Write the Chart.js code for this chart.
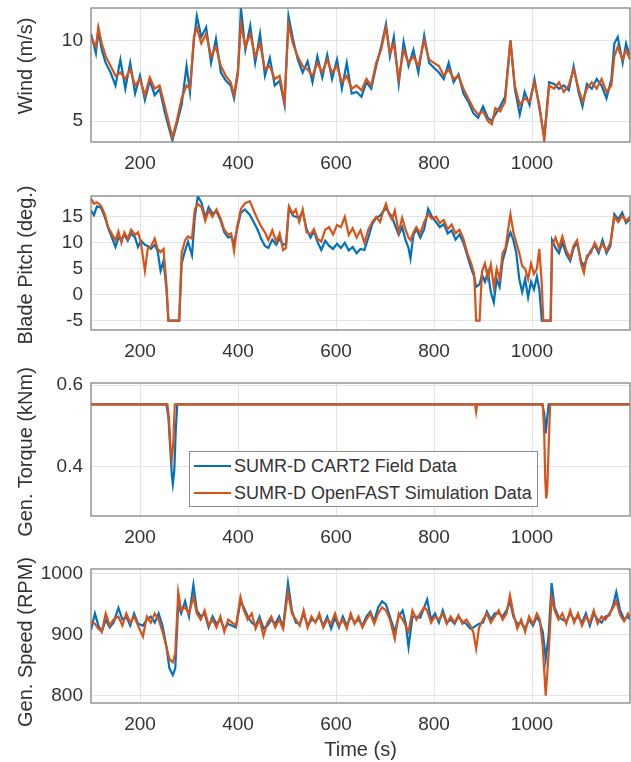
<!DOCTYPE html>
<html><head><meta charset="utf-8">
<script src="https://cdn.jsdelivr.net/npm/chart.js@4.4.1/dist/chart.umd.min.js"></script>
<style>
html,body{margin:0;padding:0;background:#fff;}
body{width:631px;height:762px;position:relative;overflow:hidden;font-family:"Liberation Sans",Arial,sans-serif;}
canvas{position:absolute;left:0;}
#legend{position:absolute;left:189px;top:451px;width:349px;height:56px;box-sizing:border-box;border:1px solid #8a8a8a;background:#fff;z-index:5;}
#legend .ln{position:absolute;left:4px;width:37px;height:2.5px;}
#legend .tx{position:absolute;left:44px;font-size:18px;line-height:20px;color:#333;white-space:nowrap;}
.ylab{position:absolute;left:25px;font-size:20px;line-height:24px;color:#333;white-space:nowrap;transform:translate(-50%,-50%) rotate(-90deg);z-index:4;}
</style></head>
<body>
<div id="legend"></div>
<script>
// ---------- data ----------
const seriesNames = ['SUMR-D CART2 Field Data', 'SUMR-D OpenFAST Simulation Data'];
const yLabels = ['Wind (m/s)', 'Blade Pitch (deg.)', 'Gen. Torque (kNm)', 'Gen. Speed (RPM)'];
const xLabel = 'Time (s)';
const xTicks = [200, 400, 600, 800, 1000];
const windTicks = [5, 10];
const pitchTicks = [-5, 0, 5, 10, 15];
const torqueTicks = [0.4, 0.6];
const speedTicks = [800, 900, 1000];

const windT = [100,110,115,122,130,140,150,160,170,180,
190,200,210,220,230,240,250,258,266,275,
285,295,302,310,316,325,335,345,355,365,
375,385,392,400,406,415,425,435,445,455,
465,475,485,495,503,512,522,532,542,552,
562,572,582,592,602,612,622,632,642,652,
662,672,682,692,702,710,718,728,738,748,
758,768,780,790,800,810,820,830,840,850,
860,870,880,890,900,910,918,925,935,945,
956,965,975,985,995,1005,1015,1025,1035,1045,
1055,1065,1075,1085,1095,1103,1112,1122,1132,1142,
1152,1162,1168,1175,1185,1192,1200];
const windOrange = [10.2,9.6,10.8,9.8,9.0,8.4,7.8,8.0,7.6,8.2,
7.2,7.6,6.6,7.7,7.0,7.2,6.0,5.0,4.0,5.0,
6.4,7.2,7.0,10.2,10.8,9.8,10.4,9.0,9.6,8.4,
7.8,7.4,6.6,8.2,11.0,9.6,10.4,9.0,9.8,8.2,
8.4,7.6,7.8,6.2,11.0,9.8,9.0,8.4,8.2,7.8,
8.6,8.0,8.8,8.0,8.4,7.4,7.8,7.0,7.2,6.9,
7.6,7.2,8.6,9.4,10.8,9.2,9.8,7.6,9.4,8.6,
9.0,8.4,10.0,8.8,8.6,8.4,7.8,8.2,7.6,7.8,
7.0,6.4,5.8,5.4,5.6,5.0,4.8,5.8,5.6,6.2,
10.0,7.2,6.0,6.4,6.2,7.4,6.0,3.8,7.2,7.0,
7.4,6.8,7.2,8.2,7.0,6.2,7.0,7.4,7.0,7.6,
6.8,7.2,9.0,9.6,8.8,9.4,8.8];
const windBlue = [10.4,9.2,10.6,9.4,8.6,8.0,7.2,8.8,7.0,8.6,
6.7,7.8,6.3,7.5,6.6,7.0,5.6,4.7,3.8,4.8,
6.0,8.4,6.8,10.0,11.5,10.2,10.8,8.6,10.1,8.0,
7.5,7.2,6.4,8.0,12.0,9.4,10.9,8.6,10.4,7.8,
8.9,7.2,7.5,6.0,11.5,10.1,8.8,8.0,8.7,7.4,
9.0,7.7,9.1,7.6,8.8,7.0,8.6,6.7,6.8,6.5,
7.4,7.0,8.4,9.6,11.0,9.0,10.2,7.3,9.9,8.4,
9.4,8.0,10.3,8.6,8.3,8.0,7.6,8.6,7.4,7.9,
6.7,6.2,5.5,5.2,5.9,5.2,5.0,5.4,5.9,6.5,
10.0,7.0,5.4,6.8,6.0,7.6,5.8,4.0,7.4,7.3,
7.0,7.2,6.9,8.4,6.8,5.9,7.3,7.0,7.6,7.2,
6.4,7.6,9.8,10.2,8.6,9.8,9.0];

const pitchT = [100,106,112,120,128,135,142,150,156,162,
168,175,182,190,196,202,210,216,222,230,
236,242,248,254,258,280,285,292,298,306,
312,318,326,333,340,348,356,364,372,380,
386,392,398,406,414,424,432,440,448,455,
462,470,478,485,492,498,504,512,518,525,
532,540,548,555,562,570,578,586,594,602,
610,618,626,634,642,650,658,666,674,682,
690,696,702,708,714,720,728,735,742,748,
752,758,764,772,780,788,796,804,812,820,
828,836,844,852,860,868,876,882,886,893,
898,904,910,916,922,928,934,940,946,952,
956,962,968,974,980,986,992,998,1004,1010,
1015,1020,1023,1038,1041,1048,1055,1062,1070,1078,
1085,1092,1100,1106,1112,1120,1128,1136,1144,1152,
1160,1168,1176,1184,1192,1200];
const pitchOrange = [18.5,17.5,17.8,17.2,15.5,13.0,11.8,10.5,12.2,10.0,
12.0,10.8,12.5,11.5,12.0,10.0,4.6,9.0,9.2,10.8,
8.8,8.2,8.8,2.0,-5,-5,8.0,10.5,11.2,10.8,
16.5,17.5,16.8,14.2,16.2,15.0,16.4,14.8,12.5,11.5,
11.8,8.4,13.0,16.5,17.6,18.0,16.2,14.5,13.0,12.0,
10.5,12.4,10.2,11.8,8.6,9.0,17.0,15.6,16.4,14.0,
16.4,12.0,11.6,12.6,10.8,10.2,12.5,13.0,11.6,13.4,
13.0,15.0,11.5,12.8,11.0,12.4,10.0,12.5,14.0,15.0,
14.0,16.0,17.5,15.5,14.5,16.2,12.0,14.8,12.5,11.0,
10.5,12.0,13.0,11.8,14.0,15.5,14.6,15.0,13.8,14.4,
12.6,13.5,11.8,12.5,10.8,8.0,6.0,4.0,-5,-5,
4.5,6.0,3.2,5.8,1.5,5.0,3.0,8.0,9.0,13.0,
15.5,12.0,10.0,8.0,5.5,5.0,3.0,6.0,4.0,5.0,
8.8,2.0,-5,-5,9.5,11.0,9.0,11.2,8.5,7.0,
9.5,10.5,6.0,4.2,7.5,8.0,10.0,8.5,9.8,8.4,
10.0,15.0,14.0,15.2,14.2,15.0];
const pitchBlue = [16.2,15.3,17.0,16.8,15.0,12.8,11.2,9.2,11.0,10.6,
11.5,10.4,11.8,11.0,9.2,10.4,9.6,9.4,8.8,9.6,
8.4,4.6,6.5,1.0,-5,-5,6.0,8.5,10.2,7.6,
15.0,19.0,17.6,14.8,16.8,15.6,16.0,14.4,12.0,11.0,
11.2,9.8,12.6,15.8,16.4,15.4,14.0,12.5,10.6,9.4,
9.0,10.6,9.6,10.8,9.6,9.8,16.8,15.2,15.0,14.8,
16.0,12.6,11.0,12.2,10.2,8.6,10.4,9.4,8.8,9.8,
9.0,10.0,8.5,9.2,8.0,8.8,8.6,11.0,13.6,14.8,
15.2,16.0,16.6,15.8,15.0,13.5,11.5,13.0,10.5,9.0,
7.0,11.5,12.6,11.0,12.6,16.5,15.0,14.0,13.0,13.6,
11.8,12.4,10.6,11.6,10.0,7.5,5.0,3.5,1.5,2.0,
3.8,2.5,4.4,0.5,-1.5,3.0,1.5,6.5,8.5,11.0,
12.0,10.5,8.0,3.0,0.5,3.0,-0.5,2.5,1.0,3.5,
1.0,-5,-5,-5,10.5,9.0,8.0,10.0,7.8,6.5,
9.0,10.0,6.5,5.5,7.0,8.5,9.5,8.0,10.5,8.0,
9.4,15.5,14.5,15.8,13.8,14.6];

const torqueBlueT = [100,254,258,262,265,267,270,273,276,1021,1025,1028,1031,1034,1200];
const torqueBlue = [0.553,0.553,0.52,0.44,0.38,0.358,0.39,0.49,0.553,0.553,0.53,0.482,0.52,0.553,0.553];
const torqueOrangeT = [100,256,259,262,265,268,271,884,886,888,1022,1025,1027,1029,1031,1034,1037,1200];
const torqueOrange = [0.553,0.553,0.52,0.45,0.42,0.46,0.553,0.553,0.535,0.553,0.553,0.48,0.37,0.323,0.34,0.45,0.553,0.553];

const speedT = [100,108,115,122,130,138,146,156,164,172,
180,188,196,206,214,222,230,238,246,254,
260,267,272,278,284,292,300,309,316,324,
332,340,348,356,364,372,380,388,396,405,
412,420,428,436,444,452,460,468,476,484,
492,502,510,518,526,534,542,550,558,566,
574,582,590,598,606,614,622,630,638,646,
654,662,670,678,686,694,702,710,720,728,
736,742,748,756,764,772,780,786,794,802,
810,818,826,834,842,850,858,866,874,880,
886,892,900,908,916,924,932,940,948,955,
962,970,978,986,994,1002,1010,1016,1022,1028,
1034,1040,1046,1054,1062,1070,1078,1086,1094,1102,
1110,1118,1126,1134,1142,1150,1158,1166,1172,1180,
1188,1196,1200];
const speedOrange = [922,918,910,905,935,915,925,930,915,935,
920,930,915,897,930,920,935,925,905,880,
860,855,870,970,940,945,935,962,935,925,
940,915,925,912,930,905,925,920,915,962,
940,925,935,910,925,898,920,930,912,925,
910,970,935,925,915,940,912,930,920,935,
912,925,918,935,915,925,910,935,918,930,
912,925,935,918,935,945,940,925,893,935,
925,915,905,940,925,935,945,940,920,930,
925,935,918,930,920,932,918,925,915,905,
877,912,925,935,920,930,940,925,935,965,
935,910,925,905,930,918,935,925,880,800,
870,962,940,925,935,918,940,920,935,915,
930,920,940,918,930,925,935,945,955,932,
922,935,930];
const speedBlue = [908,935,915,905,925,912,920,944,925,930,
915,935,918,915,925,930,920,935,915,880,
845,834,845,950,935,955,930,982,940,930,
935,912,930,918,925,910,918,915,912,955,
945,930,920,915,930,910,915,925,918,930,
912,985,940,920,918,935,915,925,922,930,
915,930,910,928,912,930,915,930,920,925,
915,930,938,922,945,955,950,930,905,930,
940,920,880,930,930,928,945,958,925,935,
920,940,920,925,918,930,922,918,910,912,
915,918,920,938,925,935,935,930,940,955,
930,918,920,910,925,915,930,920,905,860,
900,985,945,930,925,922,935,925,930,920,
935,915,935,925,920,930,932,950,970,940,
925,930,925];

// ---------- styling ----------
const BLUE = '#0072BD', ORANGE = '#D95319';
const TXT = '#333333', GRID = '#e4e4e4', FRAME = '#7a7a7a';
const FONT = '"Liberation Sans", Arial, Helvetica, sans-serif';

const framePlugin = {
  id: 'frame',
  afterDatasetsDraw(c) {
    const a = c.chartArea, g = c.ctx;
    g.save();
    g.strokeStyle = FRAME; g.lineWidth = 1.2;
    g.strokeRect(a.left, a.top, a.right - a.left, a.bottom - a.top);
    g.restore();
  }
};

function pts(t, v) { return t.map((x, i) => ({ x: x, y: v[i] })); }

function panel(top, height, xAxisH, blue, orange, yMin, yMax, yTicks, yLabel, yLabelCenter, xTitle) {
  const cv = document.createElement('canvas');
  cv.width = 631; cv.height = height;
  cv.style.top = top + 'px'; cv.style.width = '631px'; cv.style.height = height + 'px';
  document.body.appendChild(cv);
  const lab = document.createElement('div');
  lab.className = 'ylab'; lab.textContent = yLabel; lab.style.top = yLabelCenter + 'px';
  document.body.appendChild(lab);
  new Chart(cv, {
    type: 'line',
    data: {
      datasets: [
        { label: seriesNames[1], data: orange, borderColor: ORANGE, borderWidth: 2.2, pointRadius: 0, tension: 0, order: 1, clip: 0 },
        { label: seriesNames[0], data: blue, borderColor: BLUE, borderWidth: 2.2, pointRadius: 0, tension: 0, order: 2, clip: 0 }
      ]
    },
    options: {
      responsive: false, animation: false, devicePixelRatio: 1,
      layout: { padding: { top: 8, right: 1, left: 0, bottom: 0 } },
      plugins: { legend: { display: false }, tooltip: { enabled: false } },
      events: [],
      scales: {
        x: {
          type: 'linear', min: 100, max: 1200,
          afterBuildTicks: s => { s.ticks = xTicks.map(v => ({ value: v })); },
          afterFit: s => { s.height = xAxisH; s.paddingLeft = 0; s.paddingRight = 0; },
          grid: { color: GRID, lineWidth: 1, drawTicks: false },
          border: { display: false },
          ticks: { color: TXT, font: { family: FONT, size: 19 }, padding: 10, maxRotation: 0, autoSkip: false, callback: v => String(v) },
          title: { display: !!xTitle, text: xTitle || '', color: TXT, font: { family: FONT, size: 20 }, padding: { top: 0, bottom: 0 } }
        },
        y: {
          min: yMin, max: yMax,
          afterBuildTicks: s => { s.ticks = yTicks.map(v => ({ value: v })); },
          afterFit: s => { s.width = 91; s.paddingTop = 0; s.paddingBottom = 0; },
          grid: { color: GRID, lineWidth: 1, drawTicks: false },
          border: { display: false },
          ticks: { color: TXT, font: { family: FONT, size: 19 }, padding: 8, autoSkip: false, callback: v => String(v) }
        }
      }
    },
    plugins: [framePlugin]
  });
}

panel(0, 187, 45, pts(windT, windBlue), pts(windT, windOrange), 3.7, 12, windTicks, yLabels[0], 66);
panel(188, 187, 45, pts(pitchT, pitchBlue), pts(pitchT, pitchOrange), -6.8, 19, pitchTicks, yLabels[1], 265);
panel(375, 186, 45, pts(torqueBlueT, torqueBlue), pts(torqueOrangeT, torqueOrange), 0.28, 0.605, torqueTicks, yLabels[2], 452);
panel(561, 201, 59, pts(speedT, speedBlue), pts(speedT, speedOrange), 788, 1008, speedTicks, yLabels[3], 642, xLabel);

// legend (HTML text)
const lg = document.getElementById('legend');
[[seriesNames[0], BLUE, 14], [seriesNames[1], ORANGE, 41]].forEach(([name, col, cy]) => {
  const l = document.createElement('div'); l.className = 'ln';
  l.style.top = (cy - 1.25) + 'px'; l.style.background = col; lg.appendChild(l);
  const t = document.createElement('div'); t.className = 'tx';
  t.style.top = (cy - 10) + 'px'; t.textContent = name; lg.appendChild(t);
});
</script>
</body></html>
